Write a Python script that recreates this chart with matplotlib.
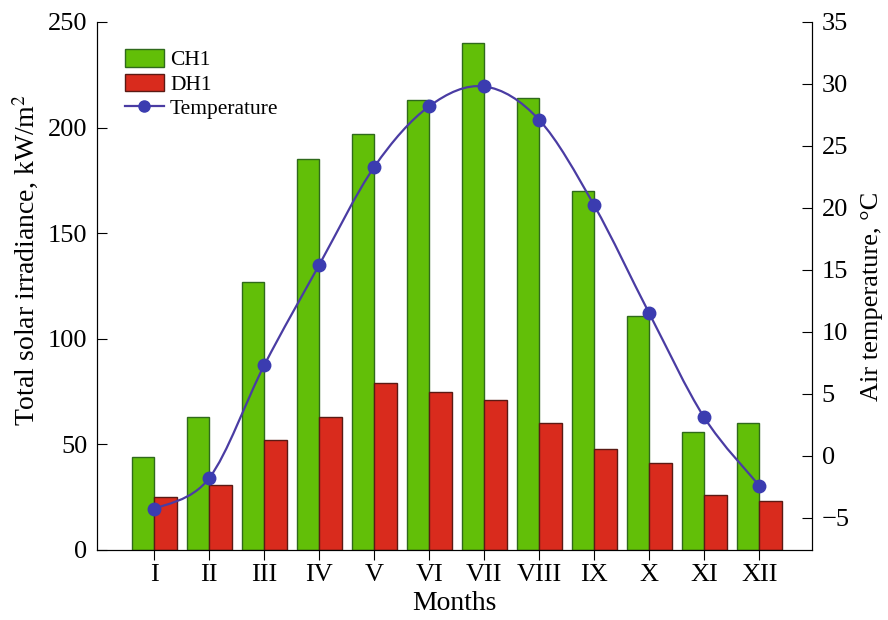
import numpy as np
import matplotlib.pyplot as plt
from matplotlib.path import Path
from matplotlib.patches import PathPatch, Patch
from matplotlib.lines import Line2D

# Data
months = ["I", "II", "III", "IV", "V", "VI", "VII", "VIII", "IX", "X", "XI", "XII"]
ch1 = [44, 63, 127, 185, 197, 213, 240, 214, 170, 111, 56, 60]
dh1 = [25, 31, 52, 63, 79, 75, 71, 60, 48, 41, 26, 23]
temperature = [-4.3, -1.8, 7.3, 15.4, 23.3, 28.2, 29.8, 27.1, 20.2, 11.5, 3.1, -2.4]

plt.rcParams['font.family'] = ['Liberation Serif', 'DejaVu Serif']
plt.rcParams['mathtext.fontset'] = 'stix'

green = "#62bf08"
green_edge = "#2f6a1c"
red = "#d92b1d"
red_edge = "#5a1a14"
line_col = "#4a3ca3"
marker_col = "#3b3cb0"

fig = plt.figure(figsize=(8.88, 6.2), dpi=100)
ax = fig.add_axes([97 / 888, 70 / 620, 715 / 888, 528 / 620])
ax2 = ax.twinx()

x = np.arange(1, 13)
w = 0.41
ax.bar(x - w / 2, ch1, w, color=green, edgecolor=green_edge, linewidth=1.0, zorder=2)
ax.bar(x + w / 2, dh1, w, color=red, edgecolor=red_edge, linewidth=1.0, zorder=2)

ax.set_xlim(-0.04, 12.96)
ax.set_ylim(0, 250)
ax.set_xticks(x)
ax.set_xticklabels(months)
ax.set_yticks(range(0, 251, 50))
ax.set_xlabel("Months", fontsize=20, labelpad=4)
ax.set_ylabel("Total solar irradiance, kW/m$^2$", fontsize=20)
ax.yaxis.set_label_coords(-0.078, 0.55)

ax2.set_ylim(-7.6, 35)
ax2.set_yticks(range(-5, 36, 5))
ax2.set_yticklabels([("\u2212" + str(-v)) if v < 0 else str(v) for v in range(-5, 36, 5)])
ax2.set_ylabel("Air temperature, \u00b0C", fontsize=19)
ax2.yaxis.set_label_coords(1.068, 0.48)

# Smooth curve through the temperature points (Catmull-Rom as Bezier segments)
pts = np.column_stack([x, temperature]).astype(float)
verts = [tuple(pts[0])]
codes = [Path.MOVETO]
for i in range(len(pts) - 1):
    p0 = pts[i - 1] if i > 0 else pts[i]
    p1, p2 = pts[i], pts[i + 1]
    p3 = pts[i + 2] if i + 2 < len(pts) else pts[i + 1]
    c1 = p1 + (p2 - p0) / 6
    c2 = p2 - (p3 - p1) / 6
    verts += [tuple(c1), tuple(c2), tuple(p2)]
    codes += [Path.CURVE4] * 3
ax2.add_patch(PathPatch(Path(verts, codes), facecolor="none", edgecolor=line_col,
                        linewidth=1.6, zorder=3))
ax2.plot(x, temperature, linestyle="none", marker="o", markersize=9,
         color=marker_col, zorder=4)

for a in (ax, ax2):
    a.spines["top"].set_visible(False)
ax.tick_params(axis="y", direction="in", length=7, labelsize=19, pad=7)
ax.tick_params(axis="x", direction="out", length=7, labelsize=19, pad=3)
ax2.tick_params(axis="y", direction="in", length=7, labelsize=19, pad=7)

handles = [Patch(facecolor=green, edgecolor=green_edge, label="CH1"),
           Patch(facecolor=red, edgecolor=red_edge, label="DH1"),
           Line2D([0], [0], color=line_col, marker="o", markersize=8,
                  markerfacecolor=marker_col, markeredgecolor=marker_col,
                  linewidth=1.6, label="Temperature")]
ax.legend(handles=handles, loc="upper left", bbox_to_anchor=(0.039, 0.948),
          frameon=False, fontsize=15.5, handlelength=1.8, handleheight=0.85,
          handletextpad=0.3, labelspacing=0.15, borderaxespad=0.0, borderpad=0.0)

fig.savefig("out.png", dpi=100)
